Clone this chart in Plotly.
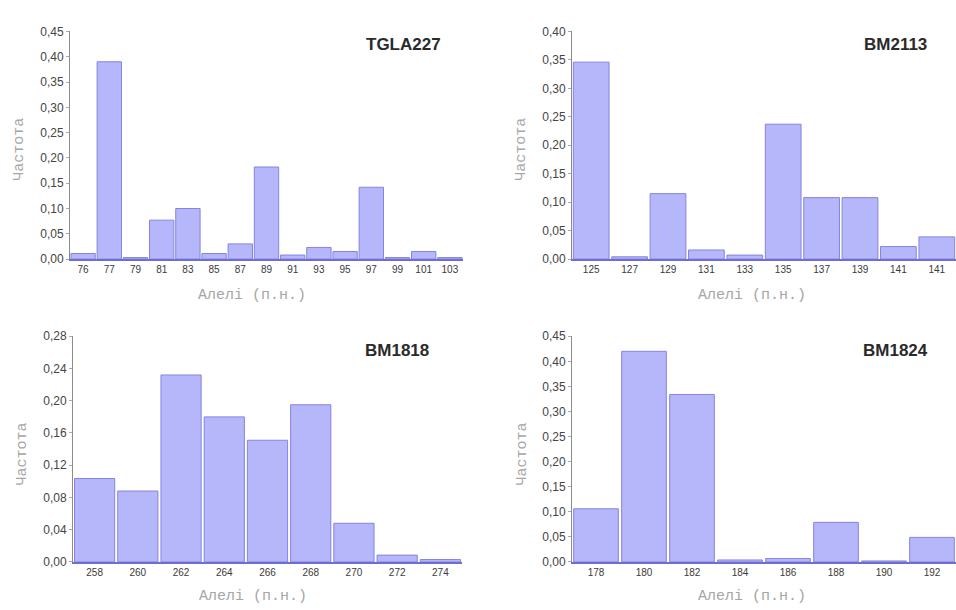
import plotly.graph_objects as go

W, H = 956, 610

# ---- data ----
tgla227_alleles = ["76", "77", "79", "81", "83", "85", "87", "89", "91", "93", "95", "97", "99", "101", "103"]
tgla227_freq = [0.011, 0.390, 0.003, 0.077, 0.100, 0.011, 0.030, 0.182, 0.008, 0.023, 0.015, 0.142, 0.003, 0.015, 0.003]

bm2113_alleles = ["125", "127", "129", "131", "133", "135", "137", "139", "141", "141"]
bm2113_freq = [0.346, 0.004, 0.115, 0.016, 0.007, 0.237, 0.108, 0.108, 0.022, 0.039]

bm1818_alleles = ["258", "260", "262", "264", "266", "268", "270", "272", "274"]
bm1818_freq = [0.1035, 0.088, 0.232, 0.180, 0.151, 0.195, 0.048, 0.0085, 0.003]

bm1824_alleles = ["178", "180", "182", "184", "186", "188", "190", "192"]
bm1824_freq = [0.106, 0.420, 0.334, 0.004, 0.007, 0.079, 0.002, 0.049]

panels = [
    dict(name="TGLA227", cats=tgla227_alleles, vals=tgla227_freq, ymax=0.45, dtick=0.05, fmt=".2f",
         px=(70, 463), py=(25, 258), title_xy=(403, 38), xt=(252, 295), yt=(20, 146)),
    dict(name="BM2113", cats=bm2113_alleles, vals=bm2113_freq, ymax=0.40, dtick=0.05, fmt=".2f",
         px=(572, 959), py=(25, 258), title_xy=(895, 38), xt=(752, 295), yt=(522, 146)),
    dict(name="BM1818", cats=bm1818_alleles, vals=bm1818_freq, ymax=0.28, dtick=0.04, fmt=".2f",
         px=(73, 462), py=(337, 568), title_xy=(397, 352), xt=(253, 603), yt=(22, 458)),
    dict(name="BM1824", cats=bm1824_alleles, vals=bm1824_freq, ymax=0.45, dtick=0.05, fmt=".2f",
         px=(572, 959), py=(337, 568), title_xy=(895, 352), xt=(752, 603), yt=(522, 458)),
]

fig = go.Figure()
annotations = []
for i, p in enumerate(panels, start=1):
    xa = "x" if i == 1 else f"x{i}"
    ya = "y" if i == 1 else f"y{i}"
    idx = list(range(len(p["cats"])))
    fig.add_trace(go.Bar(
        x=idx, y=p["vals"], xaxis=xa, yaxis=ya,
        marker=dict(color="#b6b6fa", line=dict(color="#8484e0", width=1)),
        showlegend=False, hoverinfo="x+y",
    ))
    xkey = "xaxis" if i == 1 else f"xaxis{i}"
    ykey = "yaxis" if i == 1 else f"yaxis{i}"
    fig.layout[xkey] = dict(
        domain=[p["px"][0] / W, min(p["px"][1] / W, 1.0)],
        range=[-0.5, len(idx) - 0.5],
        anchor=ya, tickmode="array", tickvals=idx, ticktext=p["cats"],
        showline=True, linecolor="#6e6ed0", linewidth=2,
        ticks="", showgrid=False, zeroline=False,
        tickfont=dict(family="Liberation Sans", size=10, color="#3a3a3a"),
        fixedrange=True,
    )
    fig.layout[ykey] = dict(
        domain=[(H - p["py"][1]) / H, (H - p["py"][0]) / H],
        range=[0, p["ymax"]], dtick=p["dtick"], tick0=0, tickformat=p["fmt"],
        anchor=xa, showline=True, linecolor="#8c8c8c", linewidth=1,
        ticks="outside", ticklen=3, tickcolor="#aaaaaa",
        showgrid=False, zeroline=False,
        tickfont=dict(family="Liberation Sans", size=12, color="#444444"),
        fixedrange=True,
    )
    annotations.append(dict(
        text=f"<b>{p['name']}</b>", xref="paper", yref="paper",
        x=p["title_xy"][0] / W, y=1 - p["title_xy"][1] / H,
        xanchor="center", yanchor="middle", showarrow=False,
        font=dict(family="Liberation Sans", size=17, color="#2a2a2a"),
    ))
    annotations.append(dict(
        text="Алелі (п.н.)", xref="paper", yref="paper",
        x=p["xt"][0] / W, y=1 - p["xt"][1] / H,
        xanchor="center", yanchor="middle", showarrow=False,
        font=dict(family="Liberation Mono", size=15, color="#a6a6a6"),
    ))
    annotations.append(dict(
        text="Частота", xref="paper", yref="paper",
        x=p["yt"][0] / W, y=1 - p["yt"][1] / H, textangle=-90,
        xanchor="center", yanchor="middle", showarrow=False,
        font=dict(family="Liberation Mono", size=15, color="#a6a6a6"),
    ))

fig.update_layout(
    width=W, height=H, margin=dict(l=0, r=0, t=0, b=0),
    paper_bgcolor="white", plot_bgcolor="white",
    separators=", ", bargap=0.07, annotations=annotations,
)

fig.write_html("out.html")
